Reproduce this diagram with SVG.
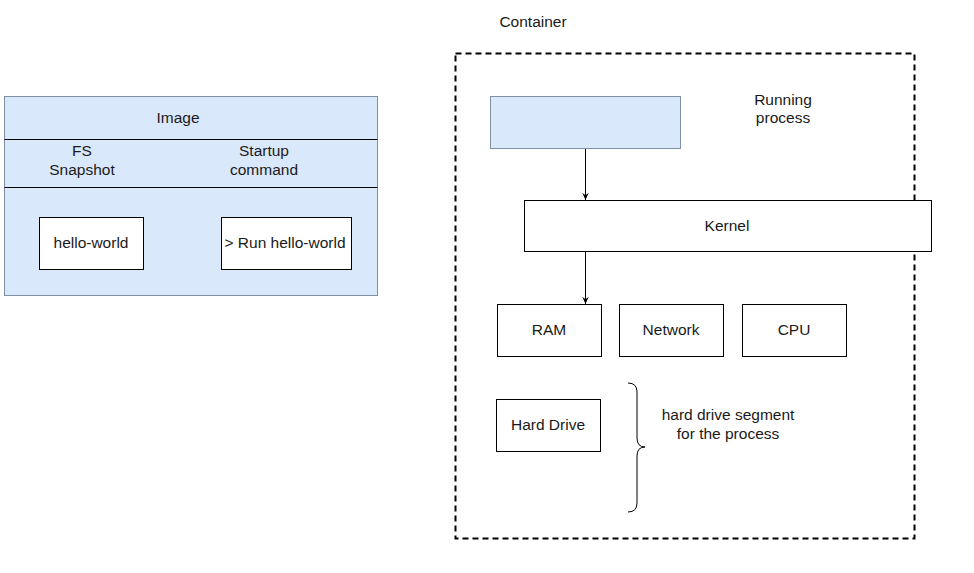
<svg xmlns="http://www.w3.org/2000/svg" width="974" height="573" viewBox="0 0 974 573">
<defs>
<marker id="arr" viewBox="0 0 10 10" refX="9" refY="5" markerWidth="8" markerHeight="8" orient="auto" markerUnits="userSpaceOnUse">
<path d="M0,1 L9,5 L0,9 L3,5 Z" fill="#000"/>
</marker>
</defs>
<style>
text{font-family:"Liberation Sans",Arial,sans-serif;font-size:15.5px;fill:#1a1a1a;text-anchor:middle;dominant-baseline:central}
.blue{fill:#dae8fc;stroke:#7f8fa6;stroke-width:1}
.box{fill:#fff;stroke:#000;stroke-width:1}
.edge{stroke:#000;stroke-width:1;fill:none}
</style>
<rect width="974" height="573" fill="#fff"/>
<g id="image">
<rect class="blue" x="4.5" y="96.5" width="373" height="199"/>
<line x1="4.5" y1="139.5" x2="377.5" y2="139.5" stroke="#000"/>
<line x1="4.5" y1="187.5" x2="377.5" y2="187.5" stroke="#000"/>
<text x="178" y="117">Image</text>
<text x="82" y="150">FS</text>
<text x="82" y="169">Snapshot</text>
<text x="264" y="150">Startup</text>
<text x="264" y="169">command</text>
</g>
<g id="hello-world">
<rect class="box" x="39.5" y="217.5" width="104" height="52"/>
<text x="91" y="242">hello-world</text>
</g>
<g id="run-hello-world">
<rect class="box" x="221.5" y="217.5" width="130" height="52"/>
<text x="285" y="242">&gt; Run hello-world</text>
</g>
<g id="container">
<rect x="455.5" y="53.5" width="459" height="485" fill="none" stroke="#000" stroke-width="2" stroke-dasharray="6 4"/>
<text x="533" y="21">Container</text>
</g>
<g id="running-process">
<rect class="blue" x="490.5" y="96.5" width="190" height="52"/>
<text x="783" y="99">Running</text>
<text x="783" y="117">process</text>
</g>
<g id="kernel">
<rect class="box" x="524.5" y="200.5" width="407" height="51"/>
<text x="727" y="225">Kernel</text>
</g>
<g id="ram">
<rect class="box" x="497.5" y="304.5" width="104" height="52"/>
<text x="549" y="329">RAM</text>
</g>
<g id="network">
<rect class="box" x="619.5" y="304.5" width="104" height="52"/>
<text x="671" y="329">Network</text>
</g>
<g id="cpu">
<rect class="box" x="742.5" y="304.5" width="104" height="52"/>
<text x="794" y="329">CPU</text>
</g>
<g id="hard-drive">
<rect class="box" x="496.5" y="399.5" width="104" height="52"/>
<text x="548" y="424">Hard Drive</text>
</g>
<g id="segment">
<path class="edge" d="M628,383 Q637,383 637,392 L637,438 Q637,447 645,447 Q637,447 637,456 L637,503 Q637,512 628,512"/>
<text x="728" y="414">hard drive segment</text>
<text x="728" y="433">for the process</text>
</g>
<g id="connectors">
<line class="edge" x1="585.5" y1="149" x2="585.5" y2="200" marker-end="url(#arr)"/>
<line class="edge" x1="585.5" y1="252" x2="585.5" y2="304" marker-end="url(#arr)"/>
</g>
</svg>
